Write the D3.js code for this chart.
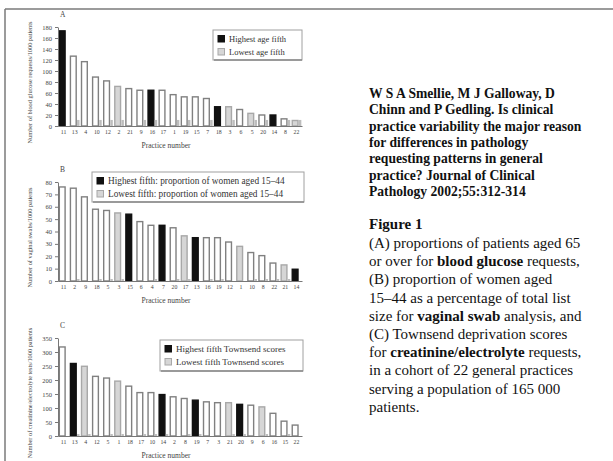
<!DOCTYPE html>
<html>
<head>
<meta charset="utf-8">
<script src="https://cdn.jsdelivr.net/npm/d3@7"></script>
<style>
  body { margin: 0; background: #fff; }
  svg { display: block; font-family: "Liberation Serif", "Times New Roman", serif; }
  .axis path, .axis line { stroke: #777; }
  .axis text { fill: #444; font-size: 6.5px; font-family: "Liberation Serif", serif; }
</style>
</head>
<body>
<script>
// --- datos ---
const practicesA = [11, 13, 4, 10, 12, 2, 21, 9, 16, 17, 1, 19, 15, 7, 18, 3, 6, 5, 20, 14, 8, 22];
const valuesA = [173, 127, 117, 89, 82, 72, 68, 65, 65, 65, 57, 53, 53, 50, 35, 35, 30, 23, 20, 20, 13, 10];
const groupsA = ['H','M','M','M','M','L','M','M','H','M','M','M','M','M','H','L','M','L','M','H','M','L'];
const stubsA = [0, 11, 0, 11, 11, 11, 0, 11, 11, 0, 11, 11, 0, 11, 0, 11, 0, 11, 11, 0, 11, 11];

const practicesB = [11, 2, 9, 18, 5, 3, 15, 6, 4, 7, 20, 17, 13, 16, 19, 12, 1, 10, 8, 22, 21, 14];
const valuesB = [76, 75, 68, 58, 57, 55, 54, 48, 45, 45, 43, 36.5, 35, 35, 35, 31.5, 28, 23, 20.5, 14.5, 13, 9.5];
const groupsB = ['M','M','M','M','M','L','H','M','M','H','M','L','H','M','M','M','L','M','M','M','L','H'];
const stubsB = [0, 1.6, 0, 1.6, 1.6, 1.6, 0, 0, 1.6, 0, 1.6, 1.6, 0, 1.6, 1.6, 0, 0, 1.6, 1.6, 1.6, 1.6, 0];

const practicesC = [11, 13, 4, 12, 5, 1, 18, 17, 10, 14, 2, 8, 19, 7, 3, 21, 20, 9, 6, 16, 15, 22];
const valuesC = [318, 259, 249, 213, 207, 196, 178, 155, 155, 148, 140, 134, 128, 122, 119, 119, 113, 110, 104, 81, 53, 39];
const groupsC = ['M','H','L','M','M','L','M','M','M','H','M','M','H','M','M','L','H','M','L','M','M','M'];
const stubsC = [0, 7, 7, 0, 7, 7, 0, 7, 7, 7, 0, 7, 7, 0, 0, 7, 7, 0, 7, 0, 7, 0];

const ticksA = d3.range(0, 181, 20);
const ticksB = d3.range(0, 81, 10);
const ticksC = d3.range(0, 351, 50);

const legendA = ['Highest age fifth', 'Lowest age fifth'];
const legendB = ['Highest fifth: proportion of women aged 15\u201344', 'Lowest fifth: proportion of women aged 15\u201344'];
const legendC = ['Highest fifth Townsend scores', 'Lowest fifth Townsend scores'];

const yTitleA = 'Number of blood glucose requests/1000 patients';
const yTitleB = 'Number of vaginal swabs/1000 patients';
const yTitleC = 'Number of creatinine/electrolyte tests/1000 patients';

const citeLines = [
  'W S A Smellie, M J Galloway, D',
  'Chinn and P Gedling. Is clinical',
  'practice variability the major reason',
  'for differences in pathology',
  'requesting patterns in general',
  'practice? Journal of Clinical',
  'Pathology 2002;55:312-314'
];
// [texto normal, texto en negrita, texto normal]
const captionLines = [
  ['(A) proportions of patients aged 65', '', ''],
  ['or over for ', 'blood glucose', ' requests,'],
  ['(B) proportion of women aged', '', ''],
  ['15\u201344 as a percentage of total list', '', ''],
  ['size for ', 'vaginal swab', ' analysis, and'],
  ['(C) Townsend deprivation scores', '', ''],
  ['for ', 'creatinine/electrolyte', ' requests,'],
  ['in a cohort of 22 general practices', '', ''],
  ['serving a population of 165 000', '', ''],
  ['patients.', '', '']
];

const WIDTH = 613;
const HEIGHT = 461;
const PLOT = { LEFT: 58, RIGHT: 302 };

const fillFor = { H: '#111', M: '#fff', L: '#d6d6d6' };
const strokeFor = { H: '#111', M: '#808080', L: '#a8a8a8' };

const svg = d3.select('body').append('svg')
  .attr('width', WIDTH)
  .attr('height', HEIGHT);

// marco
svg.append('line').attr('x1', 5).attr('x2', WIDTH).attr('y1', 9).attr('y2', 9)
  .attr('stroke', '#7a7a7a').attr('stroke-width', 1.5);
svg.append('line').attr('x1', 5).attr('x2', 5).attr('y1', 9).attr('y2', HEIGHT)
  .attr('stroke', '#7a7a7a').attr('stroke-width', 1.5);

const panels = [
  { letter: 'A', practices: practicesA, values: valuesA, groups: groupsA, stubs: stubsA, ticks: ticksA,
    top: 27, bottom: 126, yTitle: yTitleA, legend: legendA, box: [213, 30, 89, 30], fs: 8.5 },
  { letter: 'B', practices: practicesB, values: valuesB, groups: groupsB, stubs: stubsB, ticks: ticksB,
    top: 182, bottom: 281, yTitle: yTitleB, legend: legendB, box: [92, 172, 212, 30], fs: 9.3 },
  { letter: 'C', practices: practicesC, values: valuesC, groups: groupsC, stubs: stubsC, ticks: ticksC,
    top: 338, bottom: 436, yTitle: yTitleC, legend: legendC, box: [160, 340, 143, 31], fs: 9 }
];

panels.forEach(p => {
  const g = svg.append('g');
  const data = p.practices.map((pr, i) => ({
    practice: pr, value: p.values[i], group: p.groups[i], stub: p.stubs[i], idx: i
  }));

  const x = d3.scaleBand().domain(d3.range(data.length)).range([PLOT.LEFT, PLOT.RIGHT]);
  const y = d3.scaleLinear().domain([0, d3.max(p.ticks)]).range([p.bottom, p.top]);
  const bw = x.bandwidth();

  // barras principales
  g.selectAll('.bar').data(data).enter().append('rect')
    .attr('class', 'bar')
    .attr('x', d => x(d.idx) + bw * 0.12)
    .attr('width', bw * 0.52)
    .attr('y', d => y(d.value))
    .attr('height', d => y(0) - y(d.value))
    .attr('fill', d => fillFor[d.group])
    .attr('stroke', d => strokeFor[d.group])
    .attr('stroke-width', 1.4);

  // barritas pequeñas
  g.selectAll('.stub').data(data.filter(d => d.stub > 0)).enter().append('rect')
    .attr('class', 'stub')
    .attr('x', d => x(d.idx) + bw * 0.72)
    .attr('width', bw * 0.22)
    .attr('y', d => y(d.stub))
    .attr('height', d => y(0) - y(d.stub))
    .attr('fill', '#bdbdbd');

  g.append('g').attr('class', 'axis')
    .attr('transform', `translate(${PLOT.LEFT},0)`)
    .call(d3.axisLeft(y).tickValues(p.ticks).tickSize(3).tickSizeOuter(0).tickPadding(3));

  const xAxis = g.append('g').attr('class', 'axis')
    .attr('transform', `translate(0,${p.bottom})`)
    .call(d3.axisBottom(x).tickFormat(i => p.practices[i]).tickSize(0).tickSizeOuter(0).tickPadding(4));
  xAxis.selectAll('text').style('font-size', '5.8px');

  g.append('text').attr('x', PLOT.LEFT + 2).attr('y', p.top - 10)
    .attr('font-size', 7.5).attr('fill', '#444').text(p.letter);

  g.append('text')
    .attr('transform', `translate(32,${(p.top + p.bottom) / 2 + 6}) rotate(-90)`)
    .attr('text-anchor', 'middle').attr('font-size', 6.3).attr('fill', '#444')
    .text(p.yTitle);

  g.append('text').attr('x', 166).attr('y', p.bottom + 22)
    .attr('text-anchor', 'middle').attr('font-size', 7.5).attr('fill', '#444')
    .text('Practice number');

  // leyenda
  const [bx, by, bwid, bh] = p.box;
  const lg = g.append('g').attr('transform', `translate(${bx},${by})`);
  lg.append('rect').attr('width', bwid).attr('height', bh)
    .attr('fill', '#fff').attr('stroke', '#a0a0a0').attr('stroke-width', 1);
  lg.append('line').attr('x1', 1).attr('x2', bwid).attr('y1', bh).attr('y2', bh)
    .attr('stroke', '#888').attr('stroke-width', 1.5);
  p.legend.forEach((t, i) => {
    const grp = i === 0 ? 'H' : 'L';
    lg.append('rect').attr('x', 5).attr('y', 5.5 + i * 13).attr('width', 6.5).attr('height', 6.5)
      .attr('fill', fillFor[grp]).attr('stroke', strokeFor[grp]);
    lg.append('text').attr('x', 16).attr('y', 12 + i * 13)
      .attr('font-size', p.fs).attr('fill', '#333').text(t);
  });
});

// texto de la derecha
const cite = svg.append('text').attr('font-size', 13.6).attr('font-weight', 'bold').attr('fill', '#111');
citeLines.forEach((t, i) => {
  cite.append('tspan').attr('x', 369).attr('y', 98 + i * 16.3).text(t);
});

svg.append('text').attr('x', 369).attr('y', 229)
  .attr('font-size', 15).attr('font-weight', 'bold').attr('fill', '#111').text('Figure 1');

const cap = svg.append('text').attr('font-size', 15).attr('fill', '#111');
captionLines.forEach((parts, i) => {
  cap.append('tspan').attr('x', 369).attr('y', 248 + i * 18.2).text(parts[0]);
  if (parts[1]) {
    cap.append('tspan').attr('font-weight', 'bold').text(parts[1]);
    cap.append('tspan').text(parts[2]);
  }
});
</script>
</body>
</html>
